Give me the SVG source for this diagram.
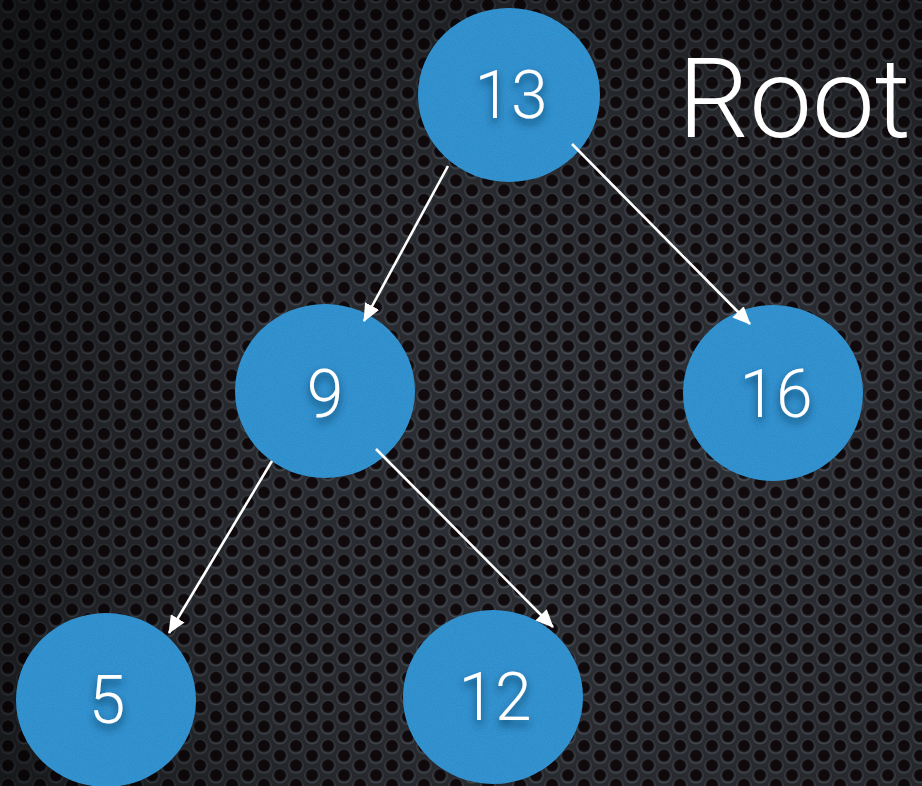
<svg xmlns="http://www.w3.org/2000/svg" width="922" height="786" viewBox="0 0 922 786">
<defs>
<pattern id="grille" x="0" y="0" width="32" height="19.5" patternUnits="userSpaceOnUse">
<rect width="32" height="19.5" fill="#2e3136"/>
<g id="hole">
<circle cx="8" cy="5.5" r="7.6" fill="#50565e"/>
<circle cx="8" cy="4.9" r="7.1" fill="#34383e"/>
<circle cx="8" cy="4.9" r="5.8" fill="#120b0e"/>
</g>
<use href="#hole" x="16" y="9.75"/>
<use href="#hole" x="-16" y="9.75"/>
<use href="#hole" x="16" y="-9.75"/>
<use href="#hole" x="0" y="19.5"/>
<use href="#hole" x="32" y="0"/>
<use href="#hole" x="-16" y="-9.75"/>
</pattern>
<radialGradient id="vig" cx="0.68" cy="0.62" r="0.85">
<stop offset="0" stop-color="#000" stop-opacity="0"/>
<stop offset="0.55" stop-color="#000" stop-opacity="0.18"/>
<stop offset="1" stop-color="#000" stop-opacity="0.6"/>
</radialGradient>
<filter id="tshadow" x="-30%" y="-30%" width="160%" height="170%">
<feDropShadow dx="0" dy="5" stdDeviation="4" flood-color="#0a3050" flood-opacity="0.8"/>
</filter>
<filter id="noise" x="0" y="0" width="100%" height="100%">
<feTurbulence type="fractalNoise" baseFrequency="0.9" numOctaves="2" seed="3" result="n"/>
<feColorMatrix in="n" type="matrix" values="0 0 0 0 0.22  0 0 0 0 0.6  0 0 0 0 0.86  0 0 0 0.14 0" result="c"/>
<feComposite in="c" in2="SourceGraphic" operator="in" result="cc"/>
<feMerge><feMergeNode in="SourceGraphic"/><feMergeNode in="cc"/></feMerge>
</filter>
<marker id="arr" viewBox="0 0 18 16" refX="17" refY="8" markerWidth="18" markerHeight="16" markerUnits="userSpaceOnUse" orient="auto">
<path d="M0,0 L18,8 L0,16 z" fill="#ffffff"/>
</marker>
</defs>
<style>
.node ellipse{fill:#288bcb;filter:url(#noise)}
.node text{fill:#ffffff;font-family:Roboto,"Liberation Sans",Arial,sans-serif;font-weight:300;font-size:66px;text-anchor:middle;filter:url(#tshadow)}
.edge{stroke:#ffffff;stroke-width:2.6;fill:none;marker-end:url(#arr)}
.title{fill:#ffffff;font-family:Roboto,"Liberation Sans",Arial,sans-serif;font-weight:300;font-size:112px}
</style>
<rect width="922" height="786" fill="url(#grille)"/>
<rect width="922" height="786" fill="url(#vig)"/>
<g id="node-13" class="node"><ellipse cx="509" cy="95" rx="91" ry="87"/><text x="511" y="118">13</text></g>
<g id="node-9" class="node"><ellipse cx="325" cy="391" rx="90" ry="87"/><text x="325" y="417">9</text></g>
<g id="node-16" class="node"><ellipse cx="773" cy="393" rx="90" ry="88"/><text x="776" y="417">16</text></g>
<g id="node-5" class="node"><ellipse cx="106" cy="700" rx="90" ry="87"/><text x="107" y="723">5</text></g>
<g id="node-12" class="node"><ellipse cx="493" cy="697" rx="90" ry="87"/><text x="495" y="720">12</text></g>
<g id="connectors">
<line class="edge" x1="448" y1="166" x2="364" y2="321"/>
<line class="edge" x1="572" y1="144" x2="750" y2="324"/>
<line class="edge" x1="272" y1="461" x2="169" y2="633"/>
<line class="edge" x1="376" y1="449" x2="553" y2="627"/>
</g>
<text class="title" x="678" y="137">Root</text>
</svg>
